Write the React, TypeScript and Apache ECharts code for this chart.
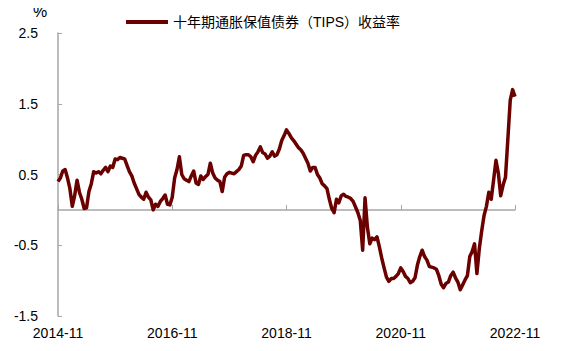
import React, { useEffect, useRef } from "react";
import * as echarts from "echarts";

// Semi-monthly observations (1st and 15th of each month), 2014-11 .. 2022-11
const tipsPart1 = [
  0.40, 0.45, 0.55, 0.57, 0.45, 0.30, 0.05, 0.20, 0.42, 0.25, 0.15, 0.02,
  0.03, 0.26, 0.37, 0.54, 0.52, 0.54, 0.51, 0.56, 0.60, 0.54, 0.62, 0.60,
  0.72, 0.71, 0.74, 0.73, 0.72, 0.63, 0.54, 0.48, 0.38, 0.30, 0.22, 0.18,
  0.15, 0.25, 0.18, 0.14, 0.00, 0.08, 0.05, 0.12, 0.16, 0.21, 0.08, 0.07,
];
const tipsPart2 = [
  0.18, 0.45, 0.57, 0.75, 0.50, 0.44, 0.42, 0.40, 0.48, 0.55, 0.38, 0.36,
  0.48, 0.43, 0.47, 0.50, 0.66, 0.52, 0.45, 0.42, 0.40, 0.26, 0.46, 0.51,
  0.53, 0.52, 0.51, 0.54, 0.57, 0.62, 0.77, 0.78, 0.78, 0.75, 0.68, 0.77,
  0.82, 0.89, 0.81, 0.79, 0.73, 0.76, 0.82, 0.76, 0.78, 0.86, 0.98, 1.05,
];
const tipsPart3 = [
  1.13, 1.08, 1.02, 0.98, 0.93, 0.88, 0.85, 0.80, 0.73, 0.66, 0.55, 0.60,
  0.60, 0.50, 0.45, 0.37, 0.34, 0.30, 0.15, 0.02, -0.04, 0.15, 0.10, 0.20,
  0.22, 0.19, 0.18, 0.16, 0.12, 0.04, -0.04, -0.15, -0.57, 0.17, -0.25, -0.48,
  -0.40, -0.42, -0.38, -0.52, -0.68, -0.82, -0.95, -1.01, -0.97, -0.97, -0.94, -0.90,
];
const tipsPart4 = [
  -0.82, -0.87, -0.94, -0.97, -1.03, -1.01, -0.96, -0.78, -0.66, -0.57, -0.66, -0.71,
  -0.80, -0.81, -0.82, -0.84, -0.93, -1.05, -1.10, -1.04, -1.02, -0.93, -0.88, -0.96,
  -1.02, -1.13, -1.06, -0.99, -0.93, -0.66, -0.59, -0.48, -0.90, -0.55, -0.30, -0.08,
  0.05, 0.25, 0.15, 0.42, 0.70, 0.52, 0.20, 0.35, 0.46, 1.00, 1.55, 1.70, 1.60,
];
const tipsValues = [...tipsPart1, ...tipsPart2, ...tipsPart3, ...tipsPart4];

const yTickLabels = ["-1.5", "-0.5", "0.5", "1.5", "2.5"];
const xTickLabels = ["2014-11", "2016-11", "2018-11", "2020-11", "2022-11"];
const seriesName = "十年期通胀保值债券（TIPS）收益率";
const unitLabel = "%";

// Category dates: 1st and 15th of each month from 2014-11
const categories: string[] = [];
{
  let y = 2014;
  let m = 11;
  while (categories.length < tipsValues.length) {
    const mm = m < 10 ? "0" + m : "" + m;
    categories.push(`${y}-${mm}-01`);
    if (categories.length < tipsValues.length) categories.push(`${y}-${mm}-15`);
    m++;
    if (m > 12) {
      m = 1;
      y++;
    }
  }
}

const FONT = "'Liberation Sans', Arial, 'Noto Sans CJK SC', sans-serif";

export default function App() {
  const ref = useRef<HTMLDivElement>(null);
  useEffect(() => {
    if (!ref.current) return;
    const chart = echarts.init(ref.current, undefined, { renderer: "svg" });
    const labelStep = 47;
    chart.setOption({
      animation: false,
      backgroundColor: "#ffffff",
      textStyle: { fontFamily: FONT },
      title: {
        text: unitLabel,
        left: 33,
        top: 3,
        padding: 0,
        textStyle: { fontSize: 16, fontWeight: "normal", color: "#000", fontFamily: FONT },
      },
      grid: { left: 58, right: 55, top: 33, bottom: 35, containLabel: false },
      legend: {
        data: [seriesName],
        left: 121,
        top: 10,
        icon: "rect",
        itemWidth: 42,
        itemHeight: 4,
        itemGap: 5,
        textStyle: { fontSize: 14, color: "#000", fontFamily: FONT, padding: [0, 0, 0, 0] },
      },
      xAxis: [
        {
          type: "category",
          data: categories,
          boundaryGap: false,
          position: "bottom",
          axisLine: { onZero: true, lineStyle: { color: "#A6A6A6", width: 1.5 } },
          axisTick: { show: true, inside: true, length: 5, interval: labelStep, lineStyle: { color: "#A6A6A6" } },
          axisLabel: { show: false },
          splitLine: { show: false },
        },
        {
          type: "category",
          data: categories,
          boundaryGap: false,
          position: "bottom",
          axisLine: { show: false, onZero: false },
          axisTick: { show: false },
          axisLabel: {
            show: true,
            interval: labelStep,
            margin: 10,
            fontSize: 14,
            color: "#000",
            fontFamily: FONT,
            formatter: (v: string) => {
              const s = v.slice(0, 7);
              return xTickLabels.indexOf(s) >= 0 ? s : "";
            },
          },
          splitLine: { show: false },
        },
      ],
      yAxis: {
        type: "value",
        min: -1.5,
        max: 2.5,
        interval: 1,
        axisLine: { show: true, lineStyle: { color: "#A6A6A6", width: 1.5 } },
        axisTick: { show: true, inside: true, length: 4, lineStyle: { color: "#A6A6A6" } },
        axisLabel: {
          fontSize: 14,
          color: "#000",
          margin: 20,
          fontFamily: FONT,
          formatter: (v: number) => {
            const s = v.toFixed(1);
            return yTickLabels.indexOf(s) >= 0 ? s : "";
          },
        },
        splitLine: { show: false },
      },
      series: [
        {
          name: seriesName,
          type: "line",
          xAxisIndex: 0,
          data: tipsValues,
          showSymbol: false,
          symbol: "none",
          lineStyle: { color: "#6B0000", width: 3.5, join: "round" },
          itemStyle: { color: "#6B0000" },
        },
      ],
    });
    return () => chart.dispose();
  }, []);
  return <div ref={ref} style={{ width: 570, height: 351, margin: -8 }} />;
}
